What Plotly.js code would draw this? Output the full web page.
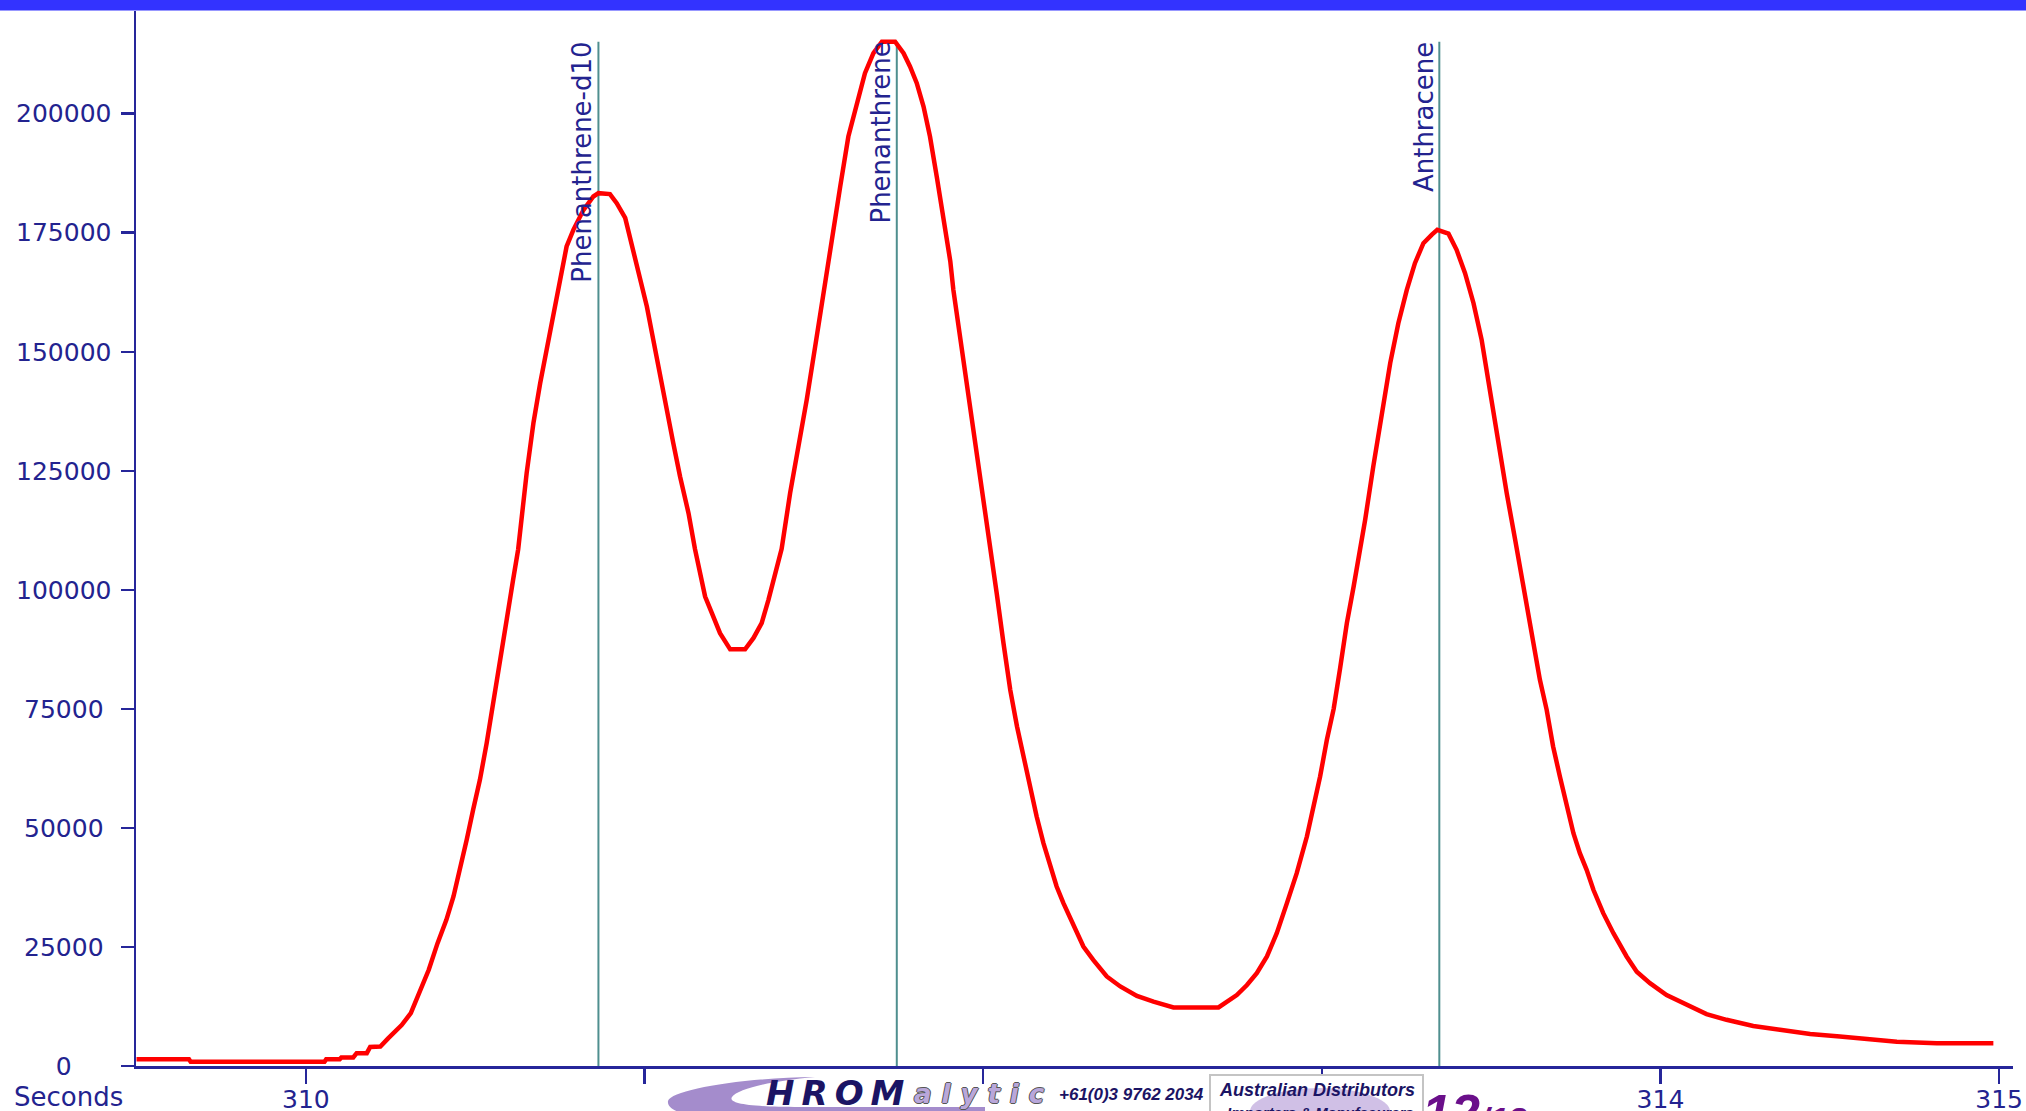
<!DOCTYPE html>
<html><head><meta charset="utf-8">
<script src="https://cdn.plot.ly/plotly-3.0.1.min.js"></script>
<style>html,body{margin:0;padding:0;background:#fff;overflow:hidden}#chart{width:2026px;height:1111px}</style>
</head><body><div id="chart"></div>
<script>
// ---------------- data ----------------
const retentionTime = [
309.50,309.655,309.66,310.055,310.06,310.10,310.105,310.14,310.15,310.18,310.19,310.22,
310.243,310.283,310.310,310.336,310.363,310.389,310.415,310.436,310.455,310.475,310.494,310.514,
310.534,310.554,310.574,310.593,310.612,310.627,310.652,310.672,310.692,310.711,310.731,310.751,
310.770,310.790,310.820,310.849,310.864,310.898,310.918,310.943,310.962,310.987,311.007,311.026,
311.046,311.066,311.085,311.105,311.130,311.149,311.164,311.179,311.199,311.223,311.253,311.297,
311.322,311.346,311.366,311.386,311.405,311.430,311.455,311.479,311.504,311.528,311.553,311.578,
311.602,311.627,311.651,311.676,311.701,311.740,311.765,311.784,311.804,311.824,311.843,311.863,
311.883,311.903,311.912,311.932,311.952,311.971,311.991,312.010,312.024,312.040,312.060,312.080,
312.100,312.119,312.139,312.158,312.178,312.198,312.217,312.237,312.267,312.296,312.325,312.365,
312.405,312.454,312.503,312.562,312.695,312.720,312.749,312.779,312.808,312.838,312.867,312.897,
312.926,312.956,312.976,312.995,313.015,313.035,313.054,313.074,313.094,313.113,313.128,313.152,
313.177,313.202,313.226,313.251,313.275,313.300,313.325,313.341,313.374,313.398,313.423,313.448,
313.472,313.497,313.522,313.546,313.571,313.590,313.605,313.624,313.644,313.664,313.683,313.703,
313.723,313.743,313.762,313.782,313.802,313.831,313.861,313.900,313.930,313.969,314.018,314.077,
314.136,314.195,314.274,314.353,314.442,314.530,314.609,314.698,314.816,314.983];
const intensity = [
1400,1400,900,900,1400,1400,1800,1800,2700,2700,4000,4100,
5800,8600,11100,15300,20200,25800,30700,35600,41200,47500,53800,60100,
67800,76200,85300,93700,102100,108500,124500,135000,143400,150400,157400,165800,
172100,175600,179800,182600,183300,183100,181200,178100,172800,165800,159500,152500,
144800,137800,130800,123800,116100,108600,103500,98600,95100,90900,87500,87500,
89900,93000,97900,103500,108600,120300,130100,139900,151100,162300,172800,184700,
195200,202200,208500,212700,215100,215100,212700,209900,206400,201500,195200,186800,
177700,169000,163000,153000,143400,133600,123800,115400,108600,99300,88800,79000,
71300,65000,58000,52400,46800,41900,37700,34200,29300,25100,22300,18800,
16700,14700,13500,12300,12300,13500,14900,17000,19500,23000,27900,34200,
40500,48200,54500,60800,68500,75000,83500,93000,100700,108400,114700,125900,
137100,147600,156000,163000,168600,172800,174600,175600,174800,171400,166500,160200,
152500,141300,130800,120300,110500,102500,97200,88800,81100,74800,67100,60800,
54500,48900,44700,41200,37000,32100,27900,23000,19800,17400,14900,12800,
10900,9700,8400,7600,6700,6200,5700,5100,4800,4800];

const markerNames = ['Phenanthrene-d10', 'Phenanthrene', 'Anthracene'];
const markerTimes = [310.864, 311.745, 313.347];
const markerTop = 215100;

const yTickVals = [0, 25000, 50000, 75000, 100000, 125000, 150000, 175000, 200000];
const yTickLabels = ['0', '25000', '50000', '75000', '100000', '125000', '150000', '175000', '200000'];
const xTickVals = [310, 311, 312, 313, 314, 315];
const xTickLabels = ['310', '', '', '', '314', '315'];
const xAxisName = 'Seconds';

const logoWordDark = 'HROM';
const logoWordLight = 'alytic';
const logoPhone = '+61(0)3 9762 2034';
const logoBoxLine1 = 'Australian Distributors';
const logoBoxLine2 = 'Importers & Manufacurers';
const pageNumber = '12';
const pageTotal = '/13';

// ---------------- layout geometry ----------------
const W = 2026, H = 1111;
const PL = 136, PR = 2013, PT = 11, PB = 1066;
const PW = PR - PL, PH = PB - PT;
const px = x => (x - PL) / PW;
const py = y => (PB - y) / PH;

const NAVY = '#23238f';
const AXIS = '#26269a';
const FONT = 'DejaVu Sans, Verdana, sans-serif';

// centre the y tick labels (non-breaking-space padding, half a digit each)
const maxLen = Math.max(...yTickLabels.map(s => s.length));
const yTickText = yTickLabels.map(s => s + '\u00a0'.repeat(maxLen - s.length));

const trace = {
  x: retentionTime, y: intensity, type: 'scatter', mode: 'lines',
  line: {color: '#ff0000', width: 4.5}, hoverinfo: 'skip', showlegend: false
};

const shapes = [];
// blue band at the very top
shapes.push({type: 'rect', xref: 'paper', yref: 'paper', x0: px(-2), x1: px(W + 2), y0: py(10.5), y1: py(-2),
  fillcolor: '#3333ff', line: {width: 0}, layer: 'above'});
// compound marker lines
markerTimes.forEach(t => shapes.push({type: 'line', xref: 'x', yref: 'y', x0: t, x1: t, y0: 0, y1: markerTop,
  line: {color: '#4f8f8f', width: 2}, layer: 'below'}));

// logo swoosh
function pathFrom(cmds) {
  return cmds.map(c => c[0] + ' ' + c.slice(1).map((v, i) => (i % 2 === 0 ? px(v) : py(v)).toFixed(5)).join(',')).join(' ') + ' Z';
}
shapes.push({type: 'path', xref: 'paper', yref: 'paper', fillcolor: '#a48ccc', line: {width: 0}, layer: 'above',
  path: pathFrom([
    ['M', 815, 1077],
    ['C', 740, 1078, 672, 1090, 668, 1101],
    ['C', 666, 1114, 700, 1120, 770, 1120],
    ['L', 985, 1120], ['L', 985, 1107], ['L', 800, 1107],
    ['C', 745, 1107, 728, 1103, 732, 1097],
    ['C', 738, 1089, 770, 1081, 815, 1077]
  ])});
// distributor box
shapes.push({type: 'rect', xref: 'paper', yref: 'paper', x0: px(1210), x1: px(1423), y0: py(1075), y1: py(1125),
  fillcolor: '#ffffff', line: {color: '#c4c4c4', width: 2}, layer: 'above'});
shapes.push({type: 'circle', xref: 'paper', yref: 'paper', x0: px(1250), x1: px(1390), y0: py(1088), y1: py(1135),
  fillcolor: 'rgba(170,140,210,0.55)', line: {width: 0}, layer: 'above'});

const annotations = [];
markerNames.forEach((name, i) => annotations.push({
  x: markerTimes[i], y: markerTop, xref: 'x', yref: 'y', text: name, showarrow: false,
  textangle: -90, xanchor: 'right', yanchor: 'top', xshift: 1, yshift: 2,
  font: {family: FONT, size: 26, color: NAVY}
}));
annotations.push({x: px(12), y: py(1097), xref: 'paper', yref: 'paper', text: xAxisName, showarrow: false,
  xanchor: 'left', yanchor: 'middle', font: {family: FONT, size: 26, color: NAVY}});

const LOGOFONT = 'Liberation Sans, Arial, sans-serif';
annotations.push({x: px(764), y: py(1093), xref: 'paper', yref: 'paper', showarrow: false, xanchor: 'left', yanchor: 'middle',
  text: '<span style="letter-spacing:7px">' + logoWordDark + '</span>',
  font: {family: 'DejaVu Sans, sans-serif', size: 34, color: '#1b1464', weight: 'bold', style: 'italic'}});
annotations.push({x: px(912), y: py(1094), xref: 'paper', yref: 'paper', showarrow: false, xanchor: 'left', yanchor: 'middle',
  text: '<span style="letter-spacing:10px">' + logoWordLight + '</span>',
  font: {family: 'DejaVu Sans, sans-serif', size: 26, color: '#b9a7da', weight: 'bold', style: 'italic',
         shadow: '-1px 0 0 #555, 1px 0 0 #555, 0 -1px 0 #555, 0 1px 0 #555'}});
annotations.push({x: px(1057), y: py(1094), xref: 'paper', yref: 'paper', showarrow: false, xanchor: 'left', yanchor: 'middle',
  text: logoPhone, font: {family: LOGOFONT, size: 17, color: '#1b1464', weight: 'bold', style: 'italic'}});
annotations.push({x: px(1317), y: py(1090), xref: 'paper', yref: 'paper', showarrow: false, xanchor: 'center', yanchor: 'middle',
  text: logoBoxLine1, font: {family: LOGOFONT, size: 18, color: '#1b1464', weight: 'bold', style: 'italic'}});
annotations.push({x: px(1320), y: py(1112), xref: 'paper', yref: 'paper', showarrow: false, xanchor: 'center', yanchor: 'middle',
  text: logoBoxLine2, font: {family: LOGOFONT, size: 15, color: '#1b1464', weight: 'bold', style: 'italic'}});
annotations.push({x: px(1420), y: py(1113), xref: 'paper', yref: 'paper', showarrow: false, xanchor: 'left', yanchor: 'middle',
  text: '<b><i>' + pageNumber + '</i></b><span style="font-size:34px"><b><i>' + pageTotal + '</i></b></span>',
  font: {family: LOGOFONT, size: 52, color: '#6a0f8a'}});

const layout = {
  width: W, height: H,
  margin: {l: PL, r: W - PR, t: PT, b: H - PB, pad: 0},
  paper_bgcolor: '#ffffff', plot_bgcolor: '#ffffff',
  showlegend: false,
  xaxis: {
    range: [309.4985, 315.041], showgrid: false, zeroline: false,
    showline: true, linecolor: AXIS, linewidth: 2.5, mirror: false,
    ticks: 'outside', ticklen: 15, tickwidth: 2.5, tickcolor: AXIS,
    tickmode: 'array', tickvals: xTickVals, ticktext: xTickLabels, ticklabelstandoff: -6,
    tickfont: {family: FONT, size: 25, color: NAVY}, fixedrange: true
  },
  yaxis: {
    range: [0, 221560], showgrid: false, zeroline: false,
    showline: true, linecolor: AXIS, linewidth: 2.5,
    ticks: 'outside', ticklen: 13, tickwidth: 2.5, tickcolor: AXIS,
    tickmode: 'array', tickvals: yTickVals, ticktext: yTickText, ticklabelstandoff: 4,
    tickfont: {family: FONT, size: 25, color: NAVY}, fixedrange: true
  },
  shapes: shapes,
  annotations: annotations
};

Plotly.newPlot('chart', [trace], layout, {staticPlot: true, displayModeBar: false});
</script>
</body></html>
